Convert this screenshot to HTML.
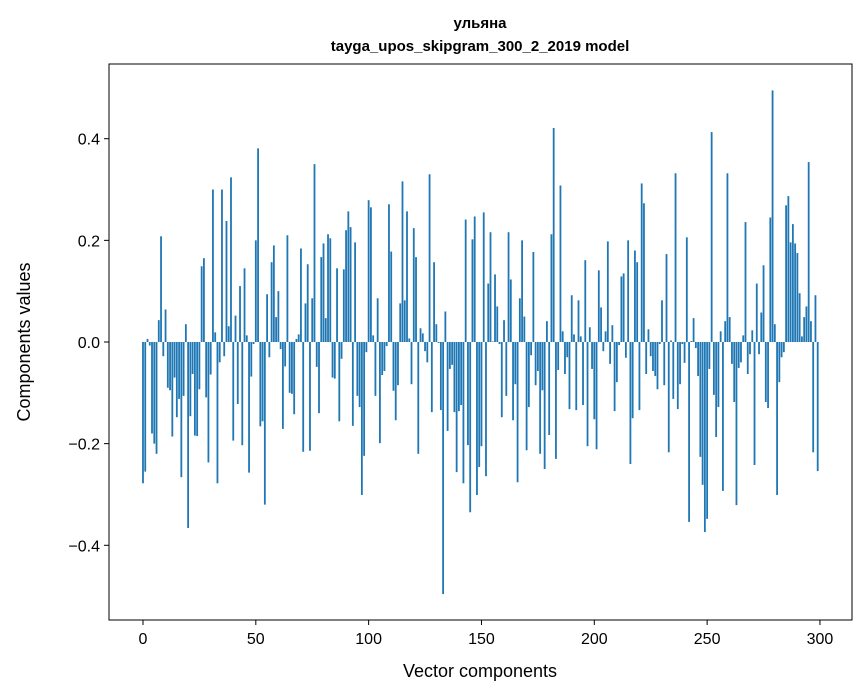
<!DOCTYPE html>
<html><head><meta charset="utf-8"><style>
html,body{margin:0;padding:0;background:#fff;}
svg{display:block;font-family:"Liberation Sans","DejaVu Sans",sans-serif;}
</style></head><body>
<svg id="chart" width="867" height="696" viewBox="0 0 867 696" xmlns="http://www.w3.org/2000/svg">
<text x="480" y="28" text-anchor="middle" font-size="15" font-weight="bold">ульяна</text>
<text x="480" y="51" text-anchor="middle" font-size="15" font-weight="bold">tayga_upos_skipgram_300_2_2019 model</text>
<g id="bars"></g>
<g id="xticks"></g>
<g id="yticks"></g>
<rect x="109" y="64" width="743" height="556" fill="none" stroke="#000" stroke-width="1"/>
<text x="480" y="677" text-anchor="middle" font-size="18">Vector components</text>
<text transform="translate(30,342) rotate(-90)" text-anchor="middle" font-size="18">Components values</text>
</svg>
<script>
const values = [
-0.278,-0.255,0.006,-0.007,-0.18,-0.2,-0.22,0.043,0.208,-0.028,
0.064,-0.09,-0.095,-0.186,-0.07,-0.148,-0.112,-0.266,-0.106,0.035,
-0.366,-0.146,-0.063,-0.184,-0.185,-0.093,0.149,0.165,-0.109,-0.237,
-0.064,0.3,0.019,-0.278,-0.04,0.3,-0.028,0.238,0.031,0.324,
-0.194,0.052,-0.122,0.11,-0.203,0.145,0.013,-0.257,-0.068,-0.004,
0.2,0.381,-0.166,-0.156,-0.32,0.094,-0.03,0.157,0.19,0.049,
0.1,-0.014,-0.171,-0.048,0.21,-0.1,-0.102,-0.142,0.006,0.015,
0.184,-0.216,0.076,0.153,-0.214,0.086,0.35,-0.049,-0.14,0.167,
0.194,0.047,0.212,0.204,-0.07,-0.072,0.145,-0.156,-0.033,0.143,
0.22,0.257,0.226,-0.165,0.196,-0.106,-0.128,-0.301,-0.224,-0.02,
0.279,0.265,0.013,-0.106,0.086,-0.199,-0.065,-0.057,-0.008,0.271,
0.178,-0.096,-0.154,-0.085,0.076,0.316,0.082,0.257,0.007,-0.083,
0.224,0.167,-0.22,0.027,0.017,-0.018,-0.04,0.33,-0.138,0.157,
0.035,-0.002,-0.134,-0.496,0.06,-0.175,-0.053,-0.045,-0.138,-0.256,
-0.136,-0.124,-0.278,0.241,-0.203,-0.335,0.202,0.247,-0.301,-0.246,
-0.205,0.255,-0.264,0.115,0.216,0.001,0.133,0.07,-0.004,-0.148,
0.043,-0.106,0.216,0.123,-0.154,-0.083,-0.276,0.086,0.2,0.05,
-0.213,-0.128,-0.026,0.177,-0.085,-0.057,-0.22,-0.095,-0.25,0.041,
-0.183,0.212,0.421,-0.23,-0.055,0.308,0.021,-0.063,-0.03,-0.132,
0.092,0.015,-0.134,0.082,0.011,-0.124,0.161,-0.205,0.029,-0.053,
-0.152,-0.211,0.141,0.068,-0.018,0.021,0.198,-0.043,0.033,-0.136,
-0.079,-0.006,0.129,0.135,-0.031,0.2,-0.24,-0.15,0.18,0.157,
-0.134,0.312,0.273,-0.063,0.025,-0.028,-0.057,-0.067,-0.093,-0.004,
0.082,-0.085,0.173,-0.217,0.003,-0.112,0.332,-0.132,-0.083,-0.004,
-0.041,0.206,-0.354,0.002,0.047,-0.012,-0.067,-0.226,-0.281,-0.374,
-0.348,-0.053,0.413,-0.104,-0.187,-0.128,0.021,-0.293,0.041,0.332,
0.049,-0.043,-0.118,-0.321,-0.051,-0.04,0.013,0.236,-0.063,-0.024,
0.023,-0.242,0.115,-0.024,0.058,0.151,-0.118,-0.13,0.245,0.495,
0.035,-0.301,-0.079,-0.03,-0.02,0.269,0.287,0.196,0.232,0.194,
0.175,0.096,0.011,0.049,0.07,0.354,0.041,-0.217,0.092,-0.254
];
const xTickValues = [0,50,100,150,200,250,300];
const xTickLabels = ["0","50","100","150","200","250","300"];
const yTickValues = [-0.4,-0.2,0,0.2,0.4];
const yTickLabels = ["\u22120.4","\u22120.2","0.0","0.2","0.4"];

const NS = "http://www.w3.org/2000/svg";
const PL = 109, PR = 852, PT = 64, PB = 620;
const XMIN = -15.06, XMAX = 314.2, YMIN = -0.547, YMAX = 0.547;
function xs(v){ return PL + (v - XMIN) / (XMAX - XMIN) * (PR - PL); }
function ys(v){ return PB - (v - YMIN) / (YMAX - YMIN) * (PB - PT); }

const bars = document.getElementById('bars');
values.forEach((v, i) => {
  const r = document.createElementNS(NS, 'rect');
  const x0 = xs(i - 0.4), x1 = xs(i + 0.4);
  const y0 = ys(Math.max(v, 0)), y1 = ys(Math.min(v, 0));
  r.setAttribute('x', x0);
  r.setAttribute('y', y0);
  r.setAttribute('width', x1 - x0);
  r.setAttribute('height', Math.max(y1 - y0, 0.3));
  r.setAttribute('fill', '#1f77b4');
  
  
  bars.appendChild(r);
});

const xg = document.getElementById('xticks');
xTickValues.forEach((v, i) => {
  const x = xs(v);
  const l = document.createElementNS(NS, 'line');
  l.setAttribute('x1', x); l.setAttribute('x2', x);
  l.setAttribute('y1', PB); l.setAttribute('y2', PB + 5);
  l.setAttribute('stroke', '#000');
  
  
  xg.appendChild(l);
  const t = document.createElementNS(NS, 'text');
  t.setAttribute('x', x); t.setAttribute('y', PB + 24);
  t.setAttribute('text-anchor', 'middle'); t.setAttribute('font-size', '16');
  t.textContent = xTickLabels[i];
  
  
  xg.appendChild(t);
});

const yg = document.getElementById('yticks');
yTickValues.forEach((v, i) => {
  const y = ys(v);
  const l = document.createElementNS(NS, 'line');
  l.setAttribute('x1', PL - 5); l.setAttribute('x2', PL);
  l.setAttribute('y1', y); l.setAttribute('y2', y);
  l.setAttribute('stroke', '#000');
  
  
  yg.appendChild(l);
  const t = document.createElementNS(NS, 'text');
  t.setAttribute('x', PL - 9); t.setAttribute('y', y + 6);
  t.setAttribute('text-anchor', 'end'); t.setAttribute('font-size', '16');
  t.textContent = yTickLabels[i];
  
  
  yg.appendChild(t);
});
</script>
</body></html>
